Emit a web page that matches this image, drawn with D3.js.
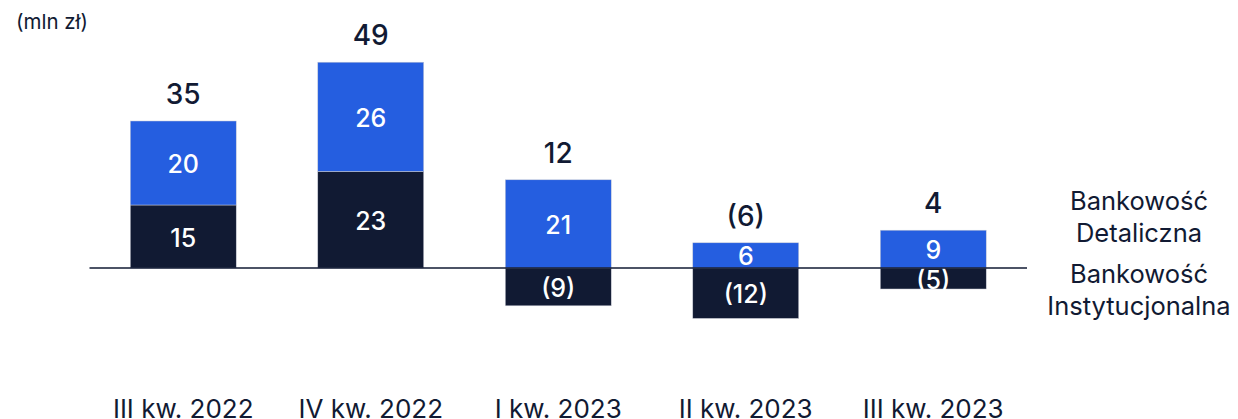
<!DOCTYPE html>
<html>
<head>
<meta charset="utf-8">
<script src="https://cdn.jsdelivr.net/npm/d3@7"></script>
<style>
  html, body { margin: 0; padding: 0; background: #fff; }
  svg text { font-family: Inter, "Noto Sans", sans-serif; }
</style>
</head>
<body>
<div id="chart"></div>
<script>
// quarters and segment results (mln zł)
const categories = ['III kw. 2022', 'IV kw. 2022', 'I kw. 2023', 'II kw. 2023', 'III kw. 2023'];
const institutional = [15, 23, -9, -12, -5];
const retail = [20, 26, 21, 6, 9];
const totals = [35, 49, 12, -6, 4];
const seriesNames = [['Bankowość', 'Detaliczna'], ['Bankowość', 'Instytucjonalna']];

const width = 1238, height = 419;
const dark = '#111a33', blue = '#255ee0';

const fmt = v => v < 0 ? `(${Math.abs(v)})` : `${v}`;

const svg = d3.select('#chart').append('svg')
    .attr('width', width)
    .attr('height', height);

const x = d3.scaleBand()
    .domain(categories)
    .range([89.5, 1027])
    .paddingInner(0.435)
    .paddingOuter(0.2175);

const y = d3.scaleLinear()
    .domain([-20, 60])
    .range([352, 16]);

// unit label
svg.append('text')
    .attr('x', 16).attr('y', 29)
    .attr('fill', dark)
    .attr('font-size', '20.5px')
    .text('(mln zł)');

const rows = categories.map((c, i) => ({
    cat: c, inst: institutional[i], ret: retail[i], total: totals[i]
}));

// segment rectangles: institutional stacks from 0, retail stacks on positive side
function segs(d) {
    const out = [];
    if (d.inst >= 0) {
        out.push({cat: d.cat, y0: 0, y1: d.inst, v: d.inst, color: dark});
        out.push({cat: d.cat, y0: d.inst, y1: d.inst + d.ret, v: d.ret, color: blue});
    } else {
        out.push({cat: d.cat, y0: d.inst, y1: 0, v: d.inst, color: dark});
        out.push({cat: d.cat, y0: 0, y1: d.ret, v: d.ret, color: blue});
    }
    return out;
}

const allSegs = rows.flatMap(segs);

svg.selectAll('rect.seg')
    .data(allSegs)
    .enter().append('rect')
    .attr('class', 'seg')
    .attr('x', d => x(d.cat))
    .attr('width', x.bandwidth())
    .attr('y', d => y(d.y1))
    .attr('height', d => y(d.y0) - y(d.y1))
    .attr('fill', d => d.color)
    .attr('stroke', '#c9ccd6')
    .attr('stroke-width', 0.5);

svg.selectAll('text.seg')
    .data(allSegs)
    .enter().append('text')
    .attr('class', 'seg')
    .attr('x', d => x(d.cat) + x.bandwidth() / 2)
    .attr('y', d => (y(d.y0) + y(d.y1)) / 2 + 1)
    .attr('dy', '0.36em')
    .attr('text-anchor', 'middle')
    .attr('fill', '#fff')
    .attr('font-size', '25px')
    .attr('font-weight', 500)
    .text(d => fmt(d.v));

// baseline
svg.append('line')
    .attr('x1', 89.5).attr('x2', 1027)
    .attr('y1', y(0)).attr('y2', y(0))
    .attr('stroke', dark)
    .attr('stroke-width', 1.5);

// totals above bars
svg.selectAll('text.total')
    .data(rows)
    .enter().append('text')
    .attr('class', 'total')
    .attr('x', d => x(d.cat) + x.bandwidth() / 2)
    .attr('y', d => y(Math.max(d.ret + Math.max(d.inst, 0), 0)) - 17)
    .attr('text-anchor', 'middle')
    .attr('fill', dark)
    .attr('font-size', '28px')
    .attr('font-weight', 500)
    .text(d => fmt(d.total));

// category axis labels
svg.selectAll('text.cat')
    .data(categories)
    .enter().append('text')
    .attr('class', 'cat')
    .attr('x', d => x(d) + x.bandwidth() / 2)
    .attr('y', 418)
    .attr('text-anchor', 'middle')
    .attr('fill', dark)
    .attr('font-size', '26px')
    .text(d => d);

// legend labels on right
const legendY = [[210, 242], [283, 315]];
seriesNames.forEach((lines, i) => {
    lines.forEach((t, j) => {
        svg.append('text')
            .attr('x', 1139)
            .attr('y', legendY[i][j])
            .attr('text-anchor', 'middle')
            .attr('fill', dark)
            .attr('font-size', '25.5px')
            .text(t);
    });
});
</script>
</body>
</html>
